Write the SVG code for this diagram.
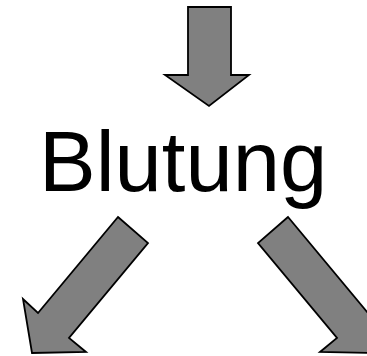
<svg xmlns="http://www.w3.org/2000/svg" width="367" height="356" viewBox="0 0 367 356">
<style>
.arrow{fill:#808080;stroke:#000;stroke-width:1.8;stroke-linejoin:miter}
.label{font-family:"Liberation Sans",Arial,sans-serif;font-size:85px;fill:#000}
</style>
<rect width="367" height="356" fill="#fff"/>
<g id="label-blutung">
<text class="label" x="39" y="191">Blutung</text>
</g>
<g id="connectors">
<polygon id="arrow-top" class="arrow" points="188,7 231,7 231,75 249,75 209,106 165,75 188,75"/>
<polygon id="arrow-left" class="arrow" points="118,217 148,243 69,338 86,352 32,353 23,299 38,313"/>
<polygon id="arrow-right" class="arrow" points="288,217 258,243 337,338 320,352 374,353 383,299 368,313"/>
</g>
</svg>
